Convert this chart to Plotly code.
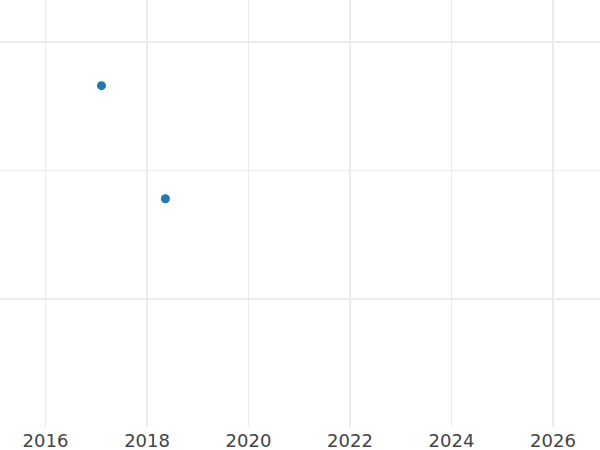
import plotly.graph_objects as go

dates = ["2017-02-07", "2018-05-13"]
values = [2.66, 1.78]
x_range = ["2015-02-07 12:00", "2026-12-05 07:00"]
y_range = [0.0039, 3.32685]

fig = go.Figure()
fig.add_trace(go.Scatter(
    x=dates, y=values, mode="markers",
    marker=dict(size=9, color="#1f77b4"),
    showlegend=False,
))
fig.update_layout(
    width=600, height=450,
    margin=dict(l=0, r=0, t=0, b=23),
    paper_bgcolor="white", plot_bgcolor="white",
    font=dict(family="DejaVu Sans", color="#444444"),
)
fig.update_xaxes(
    type="date", range=x_range, dtick="M24", tick0="2016-01-01",
    tickformat="%Y", showgrid=True, gridcolor="#ebebeb", gridwidth=1.5,
    zeroline=False, showline=False, ticks="", ticklabelstandoff=1,
    tickfont=dict(size=18, family="DejaVu Sans", color="#444444"),
)
fig.update_yaxes(
    range=y_range, dtick=1, tick0=0, showticklabels=False,
    showgrid=True, gridcolor="#ebebeb", gridwidth=1.5,
    zeroline=False, showline=False, ticks="",
)
fig.write_html(
    "out.html",
    config={"staticPlot": True, "displayModeBar": False},
    post_script="document.body.style.margin='0';document.body.style.overflow='hidden';",
)
